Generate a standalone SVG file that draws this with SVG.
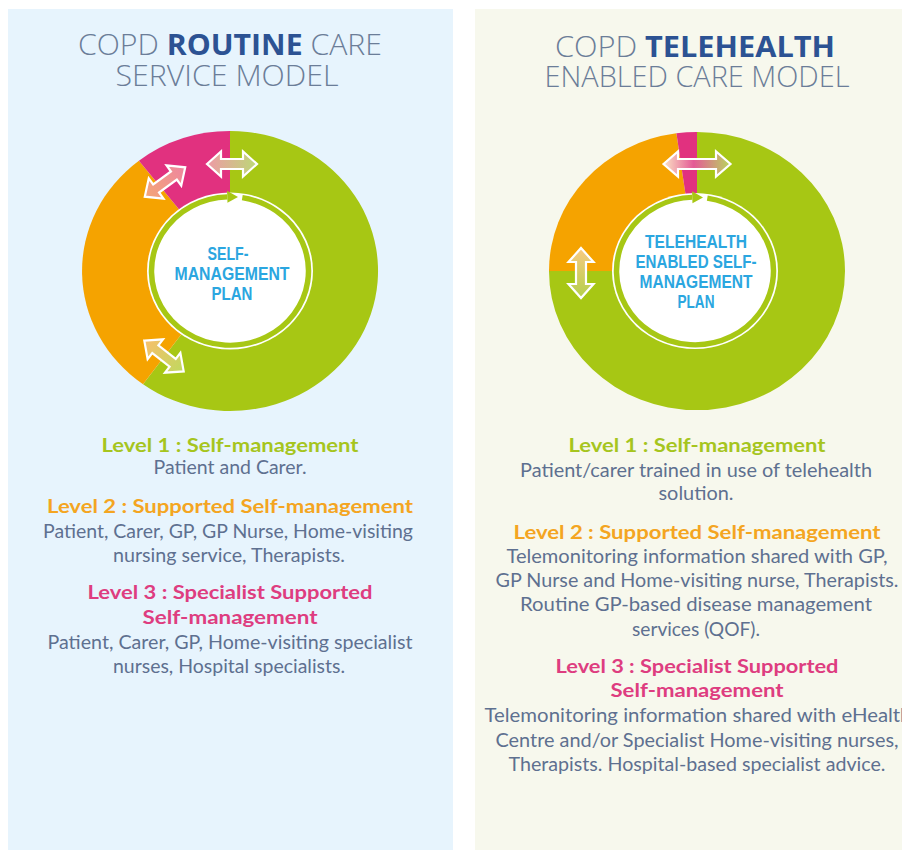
<svg xmlns="http://www.w3.org/2000/svg" width="902" height="850" viewBox="0 0 902 850">
  <style>
    .title { font-family: "Open Sans", "Liberation Sans", sans-serif; font-size: 29px; font-weight: 300; fill: #6B7D98; }
    .title .b { font-weight: 700; fill: #2C5293; }
    .ctr { font-family: "Liberation Sans", Arial, sans-serif; font-size: 18px; font-weight: 700; fill: #2BA6E0; text-anchor: middle; }
    .h { font-family: Lato, "Liberation Sans", sans-serif; font-size: 19.5px; font-weight: 700; text-anchor: middle; }
    .h1 { fill: #A6C51E; }
    .h2 { fill: #F4A521; }
    .h3 { fill: #DE3D80; }
    .t { font-family: Lato, "Liberation Sans", sans-serif; font-size: 19.5px; fill: #5E7090; text-anchor: middle; }
    .arr { stroke: #FFFFFF; stroke-width: 2.2; stroke-linejoin: miter; }
    .green { fill: #A7C714; }
    .orange { fill: #F5A300; }
    .pink { fill: #E1317F; }
  </style>
  <defs>
    <path id="dbl" d="M-25,0 L-11,-12.5 L-11,-5 L11,-5 L11,-12.5 L25,0 L11,12.5 L11,5 L-11,5 L-11,12.5 Z"/>
    <path id="dblLong" d="M-33.5,0 L-19,-12.5 L-19,-5 L19,-5 L19,-12.5 L33.5,0 L19,12.5 L19,5 L-19,5 L-19,12.5 Z"/>
    <linearGradient id="gL1" x1="0" y1="0" x2="1" y2="0">
      <stop offset="0" stop-color="#EE9AA6"/>
      <stop offset="1" stop-color="#BCD977"/>
    </linearGradient>
    <linearGradient id="gL2" x1="0" y1="0" x2="1" y2="0">
      <stop offset="0" stop-color="#F4A676"/>
      <stop offset="1" stop-color="#EE86A0"/>
    </linearGradient>
    <linearGradient id="gL3" x1="0" y1="0" x2="1" y2="0">
      <stop offset="0" stop-color="#F8BF6C"/>
      <stop offset="1" stop-color="#BFD95E"/>
    </linearGradient>
    <linearGradient id="gR1" x1="0" y1="0" x2="1" y2="0">
      <stop offset="0" stop-color="#FBE3C4"/>
      <stop offset="0.45" stop-color="#E45A96"/>
      <stop offset="1" stop-color="#B8D65E"/>
    </linearGradient>
    <linearGradient id="gR2" x1="0" y1="0" x2="1" y2="0">
      <stop offset="0" stop-color="#F9C982"/>
      <stop offset="1" stop-color="#B3D04A"/>
    </linearGradient>
  </defs>

  <rect x="0" y="0" width="902" height="850" fill="#FFFFFF"/>
  <rect id="panel-left" x="8" y="9" width="445" height="841" fill="#E7F4FD"/>
  <rect id="panel-right" x="475" y="9" width="427" height="841" fill="#F7F8ED"/>

  <!-- Titles -->
  <g id="title-left">
    <text class="title" x="230" y="55" text-anchor="middle" textLength="304" lengthAdjust="spacingAndGlyphs">COPD <tspan class="b">ROUTINE</tspan> CARE</text>
    <text class="title" x="227" y="86" text-anchor="middle" textLength="223" lengthAdjust="spacingAndGlyphs">SERVICE MODEL</text>
  </g>
  <g id="title-right">
    <text class="title" x="695" y="57" text-anchor="middle" textLength="280" lengthAdjust="spacingAndGlyphs">COPD <tspan class="b">TELEHEALTH</tspan></text>
    <text class="title" x="697" y="87" text-anchor="middle" textLength="305" lengthAdjust="spacingAndGlyphs">ENABLED CARE MODEL</text>
  </g>

  <!-- Left donut -->
  <g id="donut-left">
    <g transform="translate(230,271) scale(1,0.946)">
      <path class="green" d="M0,0 L0,-148 A148,148 0 1 1 -87,119.7 Z"/>
      <path class="orange" d="M0,0 L-87,119.7 A148,148 0 0 1 -91.1,-116.6 Z"/>
      <path class="pink" d="M0,0 L-91.1,-116.6 A148,148 0 0 1 0,-148 Z"/>
      <circle r="83" fill="#FFFFFF"/>
      <path d="M12.28,-77.53 A78.5,78.5 0 1 1 -2.74,-78.45" fill="none" stroke="#A7C714" stroke-width="5.5"/>
      <path class="green" d="M-2.95,-84.8 L8,-78.1 L-2.53,-72.1 Z"/>
    </g>
  </g>
  <g id="center-left">
    <text class="ctr" x="228" y="260" textLength="41" lengthAdjust="spacingAndGlyphs">SELF-</text>
    <text class="ctr" x="232" y="280" textLength="115" lengthAdjust="spacingAndGlyphs">MANAGEMENT</text>
    <text class="ctr" x="232" y="300" textLength="41" lengthAdjust="spacingAndGlyphs">PLAN</text>
  </g>

  <!-- Right donut -->
  <g id="donut-right">
    <g transform="translate(697,271) scale(1,0.94)">
      <path class="green" d="M0,0 L0,-148 A148,148 0 1 1 -148,0 Z"/>
      <path class="orange" d="M0,0 L-148,0 A148,148 0 0 1 -20.6,-146.6 Z"/>
      <path class="pink" d="M0,0 L-20.6,-146.6 A148,148 0 0 1 0,-148 Z"/>
      <circle cx="-2" r="83" fill="#FFFFFF"/>
      <g transform="translate(-2,0)">
        <path d="M12.28,-77.53 A78.5,78.5 0 1 1 -2.74,-78.45" fill="none" stroke="#A7C714" stroke-width="5.5"/>
        <path class="green" d="M-2.95,-84.8 L8,-78.1 L-2.53,-72.1 Z"/>
      </g>
    </g>
  </g>
  <g id="center-right">
    <text class="ctr" x="696" y="248" textLength="102" lengthAdjust="spacingAndGlyphs">TELEHEALTH</text>
    <text class="ctr" x="696" y="268" textLength="121" lengthAdjust="spacingAndGlyphs">ENABLED SELF-</text>
    <text class="ctr" x="696" y="288" textLength="113" lengthAdjust="spacingAndGlyphs">MANAGEMENT</text>
    <text class="ctr" x="696" y="308" textLength="37" lengthAdjust="spacingAndGlyphs">PLAN</text>
  </g>

  <!-- Connectors (double-headed arrows between levels) -->
  <g id="connectors">
    <use href="#dbl" class="arr" fill="url(#gL1)" transform="translate(232,164)"/>
    <use href="#dbl" class="arr" fill="url(#gL2)" transform="translate(165,182) rotate(-36)"/>
    <use href="#dbl" class="arr" fill="url(#gL3)" transform="translate(164,356) rotate(38)"/>
    <use href="#dblLong" class="arr" fill="url(#gR1)" transform="translate(697,164)"/>
    <use href="#dbl" class="arr" fill="url(#gR2)" transform="translate(581,273) rotate(90)"/>
  </g>

  <!-- Left text -->
  <g id="levels-left">
    <text class="h h1" x="230" y="452" textLength="257" lengthAdjust="spacingAndGlyphs">Level 1 : Self-management</text>
    <text class="t" x="230" y="474" textLength="153" lengthAdjust="spacingAndGlyphs">Patient and Carer.</text>
    <text class="h h2" x="230" y="513" textLength="366" lengthAdjust="spacingAndGlyphs">Level 2 : Supported Self-management</text>
    <text class="t" x="228" y="538" textLength="370" lengthAdjust="spacingAndGlyphs">Patient, Carer, GP, GP Nurse, Home-visiting</text>
    <text class="t" x="229" y="562" textLength="232" lengthAdjust="spacingAndGlyphs">nursing service, Therapists.</text>
    <text class="h h3" x="230" y="599" textLength="285" lengthAdjust="spacingAndGlyphs">Level 3 : Specialist Supported</text>
    <text class="h h3" x="230" y="624" textLength="175" lengthAdjust="spacingAndGlyphs">Self-management</text>
    <text class="t" x="230" y="649" textLength="365" lengthAdjust="spacingAndGlyphs">Patient, Carer, GP, Home-visiting specialist</text>
    <text class="t" x="229" y="673" textLength="232" lengthAdjust="spacingAndGlyphs">nurses, Hospital specialists.</text>
  </g>

  <!-- Right text -->
  <g id="levels-right">
    <text class="h h1" x="697" y="452" textLength="257" lengthAdjust="spacingAndGlyphs">Level 1 : Self-management</text>
    <text class="t" x="696" y="477" textLength="352" lengthAdjust="spacingAndGlyphs">Patient/carer trained in use of telehealth</text>
    <text class="t" x="696" y="500" textLength="75" lengthAdjust="spacingAndGlyphs">solution.</text>
    <text class="h h2" x="697" y="539" textLength="367" lengthAdjust="spacingAndGlyphs">Level 2 : Supported Self-management</text>
    <text class="t" x="697" y="563" textLength="381" lengthAdjust="spacingAndGlyphs">Telemonitoring information shared with GP,</text>
    <text class="t" x="697" y="587" textLength="403" lengthAdjust="spacingAndGlyphs">GP Nurse and Home-visiting nurse, Therapists.</text>
    <text class="t" x="696" y="611" textLength="352" lengthAdjust="spacingAndGlyphs">Routine GP-based disease management</text>
    <text class="t" x="696" y="636" textLength="128" lengthAdjust="spacingAndGlyphs">services (QOF).</text>
    <text class="h h3" x="697" y="673" textLength="283" lengthAdjust="spacingAndGlyphs">Level 3 : Specialist Supported</text>
    <text class="h h3" x="697" y="697" textLength="173" lengthAdjust="spacingAndGlyphs">Self-management</text>
    <text class="t" x="698" y="722" textLength="427" lengthAdjust="spacingAndGlyphs">Telemonitoring information shared with eHealth</text>
    <text class="t" x="697" y="747" textLength="403" lengthAdjust="spacingAndGlyphs">Centre and/or Specialist Home-visiting nurses,</text>
    <text class="t" x="697" y="771" textLength="377" lengthAdjust="spacingAndGlyphs">Therapists. Hospital-based specialist advice.</text>
  </g>
</svg>
